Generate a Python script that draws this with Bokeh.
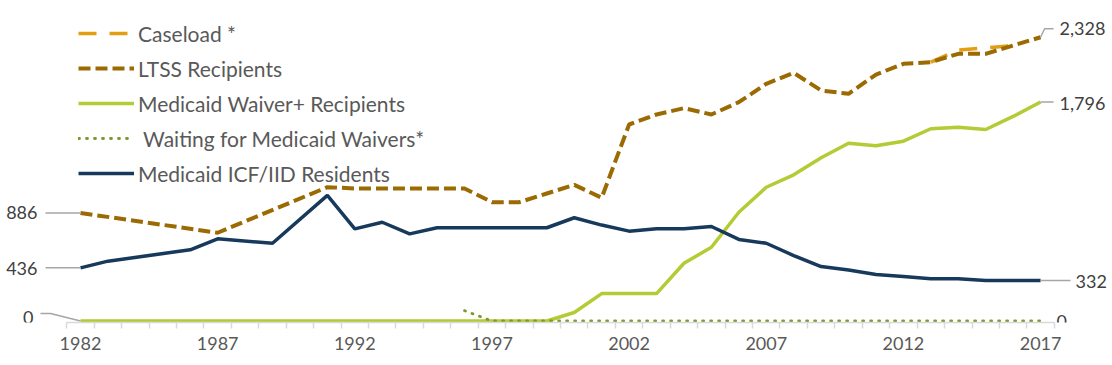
from bokeh.plotting import figure
from bokeh.models import Range1d, LinearAxis, FixedTicker, Legend, LegendItem
from bokeh.core.properties import value
from bokeh.embed import file_html
from bokeh.resources import INLINE

# ---------------- data ----------------
caseload_years = [2013, 2014, 2015, 2016]
caseload = [2123, 2223, 2240, 2260]

ltss_years = [1982, 1987, 1991, 1992, 1993, 1994, 1995, 1996, 1997, 1998, 1999,
              2000, 2001, 2002, 2003, 2004, 2005, 2006, 2007, 2008, 2009, 2010,
              2011, 2012, 2013, 2014, 2015, 2016, 2017]
ltss = [886, 724, 1098, 1087, 1087, 1087, 1087, 1087, 975, 975, 1046,
        1117, 1011, 1612, 1694, 1746, 1694, 1795, 1946, 2036, 1891, 1864,
        2022, 2110, 2123, 2192, 2192, 2260, 2328]

waiver_years = [1982, 1999, 2000, 2001, 2002, 2003, 2004, 2005, 2006, 2007, 2008,
                2009, 2010, 2011, 2012, 2013, 2014, 2015, 2016, 2017]
waiver = [0, 0, 70, 225, 225, 225, 474, 605, 892, 1097, 1199,
          1339, 1458, 1437, 1475, 1577, 1590, 1571, 1678, 1796]

waiting_years = [1996, 1997, 2017]
waiting = [85, 0, 0]

icf_years = [1982, 1983, 1986, 1987, 1989, 1991, 1992, 1993, 1994, 1995, 1999,
             2000, 2001, 2002, 2003, 2004, 2005, 2006, 2007, 2008, 2009, 2010,
             2011, 2012, 2013, 2014, 2015, 2017]
icf = [436, 491, 584, 674, 638, 1030, 756, 810, 715, 765, 765,
       847, 787, 737, 756, 756, 775, 669, 638, 537, 447, 418,
       381, 365, 346, 346, 332, 332]

tick_years = [1982, 1987, 1992, 1997, 2002, 2007, 2012, 2017]

# ---------------- styles ----------------
C_CASE = "#E39E14"
C_LTSS = "#9B6A03"
C_WAIV = "#B3CB35"
C_WAIT = "#7C9A2C"
C_ICF = "#173A5C"
C_LEAD = "#A6A6A6"
C_LBL = "#404040"
C_AX = "#595959"
FONT = "Lato"

PXX = 1096 / 39.955          # px per year
FRAME_W, FRAME_H = 1110, 314
X0 = 1982 - 80 / PXX
X1 = X0 + FRAME_W / PXX
Y0, Y1 = -12.3, 2563.6
PXY = FRAME_H / (Y1 - Y0)    # px per unit

def dx(px):
    return px / PXX

def dy(px):
    return px / PXY

p = figure(frame_width=FRAME_W, frame_height=FRAME_H, output_backend="svg",
           toolbar_location=None, x_range=Range1d(X0, X1), y_range=Range1d(Y0, Y1),
           x_axis_location=None, y_axis_location=None,
           min_border_left=0, min_border_top=8, min_border_right=0,
           min_border_bottom=0,
           outline_line_color=None, background_fill_color="white",
           border_fill_color="white")
p.xgrid.visible = False
p.ygrid.visible = False

# x axis
xa = LinearAxis(ticker=FixedTicker(ticks=tick_years,
                                   minor_ticks=[y + 0.5 for y in range(1981, 2018)]),
                bounds=(1981.5, 2017.5))
xa.axis_line_color = "#D9D9D9"
xa.axis_line_width = 1.5
xa.major_tick_line_color = None
xa.major_tick_out = 6
xa.major_tick_in = 0
xa.minor_tick_line_color = "#D9D9D9"
xa.minor_tick_line_width = 1.5
xa.minor_tick_out = 6
xa.minor_tick_in = 0
xa.major_label_standoff = 8
xa.major_label_text_font = FONT
xa.major_label_text_font_size = "18px"
xa.major_label_text_color = C_AX
p.add_layout(xa, "below")

# series
r_case = p.line(caseload_years, caseload, line_color=C_CASE, line_width=3.5,
                line_dash="18 13")
r_ltss = p.line(ltss_years, ltss, line_color=C_LTSS, line_width=4, line_dash="12 5")
r_waiv = p.line(waiver_years, waiver, line_color=C_WAIV, line_width=3.5)
r_wait = p.line(waiting_years, waiting, line_color=C_WAIT, line_width=2.8,
                line_dash="1 7", line_cap="round")
r_icf = p.line(icf_years, icf, line_color=C_ICF, line_width=3.5)

# leader lines (left)
first = ltss_years[0]
last = ltss_years[-1]
p.segment(x0=[first - dx(35)] * 2, y0=[ltss[0], icf[0]],
          x1=[first] * 2, y1=[ltss[0], icf[0]], line_color=C_LEAD, line_width=1.5)
p.line([first - dx(40), first - dx(30), first],
       [waiver[0] + dy(7.5), waiver[0] + dy(7.5), waiver[0]],
       line_color=C_LEAD, line_width=1.5)
# leader lines (right)
p.line([last, last + dx(4), last + dx(13)],
       [ltss[-1], ltss[-1] + dy(8.5), ltss[-1] + dy(8.5)],
       line_color=C_LEAD, line_width=1.5)
p.segment(x0=[last, last], y0=[waiver[-1], icf[-1]],
          x1=[last + dx(13), last + dx(30)], y1=[waiver[-1], icf[-1]],
          line_color=C_LEAD, line_width=1.5)

# data labels
p.text(x=[first] * 3, y=[ltss[0], icf[0], waiver[0]],
       text=[f"{v:,}" for v in (ltss[0], icf[0], waiver[0])],
       x_offset=[-43, -43, -47], y_offset=[0, 1, -4],
       text_align="right", text_baseline="middle",
       text_font=value(FONT), text_font_size="18px", text_color=C_LBL)
p.text(x=[last] * 4, y=[ltss[-1], waiver[-1], icf[-1], waiting[-1]],
       text=[f"{v:,}" for v in (ltss[-1], waiver[-1], icf[-1], waiting[-1])],
       x_offset=[19, 19, 35, 16], y_offset=[-8.5, 1, 1, 0.5],
       text_align="left", text_baseline="middle",
       text_font=value(FONT), text_font_size="18px", text_color=C_LBL)

# legend
legend = Legend(items=[
    LegendItem(label="Caseload *", renderers=[r_case]),
    LegendItem(label="LTSS Recipients", renderers=[r_ltss]),
    LegendItem(label="Medicaid Waiver+ Recipients", renderers=[r_waiv]),
    LegendItem(label=" Waiting for Medicaid Waivers*", renderers=[r_wait]),
    LegendItem(label="Medicaid ICF/IID Residents", renderers=[r_icf]),
], location=(78, 136))
legend.glyph_width = 56
legend.glyph_height = 26
legend.label_height = 26
legend.spacing = 9
legend.label_standoff = 4
legend.padding = 0
legend.margin = 0
legend.border_line_alpha = 0
legend.background_fill_alpha = 0
legend.label_text_font = FONT
legend.label_text_font_size = "21px"
legend.label_text_color = C_AX
p.add_layout(legend, "center")

open("out.html", "w").write(file_html(p, INLINE))
